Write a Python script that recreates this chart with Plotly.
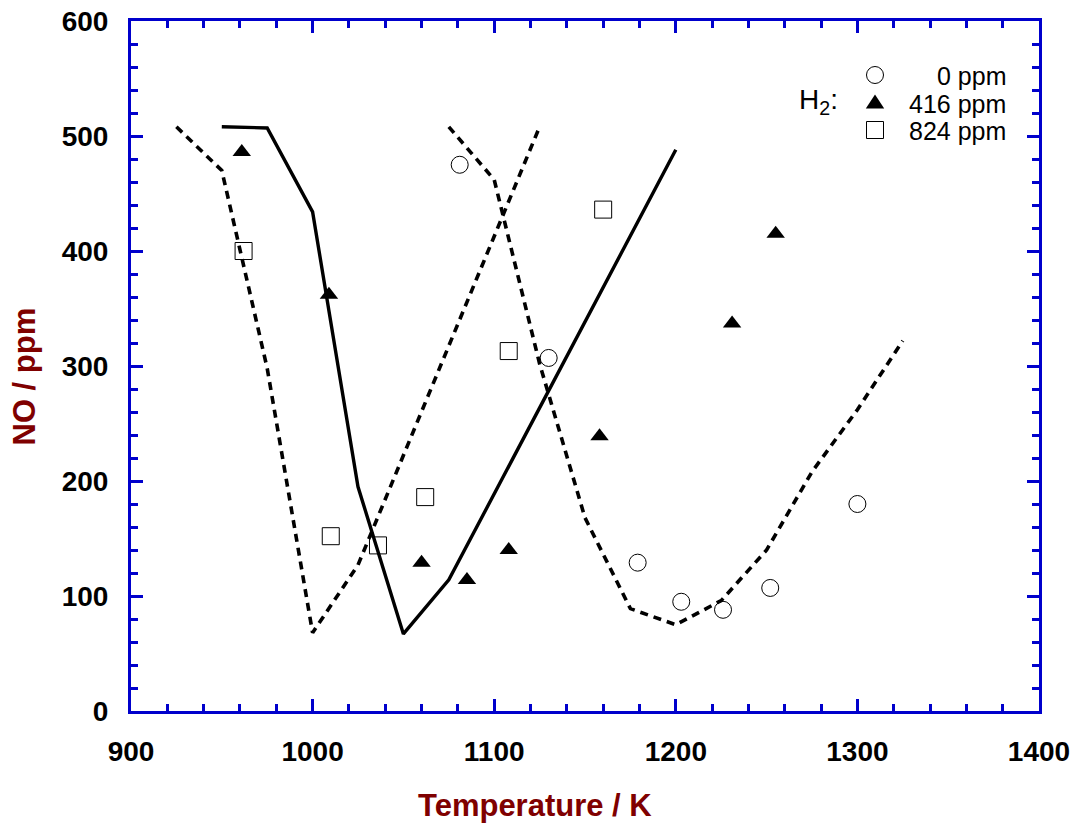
import plotly.graph_objects as go

# Simulated curves (lines)
T_sim_0 = [1075, 1100, 1125, 1150, 1175, 1200, 1225, 1250, 1275, 1300, 1325]
NO_sim_0 = [508, 462, 302, 168, 89, 75, 96, 140, 208, 262, 322]

T_sim_416 = [950, 975, 1000, 1025, 1050, 1075, 1200]
NO_sim_416 = [508, 507, 434, 195, 67, 114, 488]

T_sim_824 = [925, 950, 975, 1000, 1025, 1125]
NO_sim_824 = [508, 470, 298, 68, 127, 508]

# Experimental points
T_exp_0 = [1081, 1130, 1179, 1203, 1226, 1252, 1300]
NO_exp_0 = [475, 307, 129, 95, 88, 107, 180]

T_exp_416 = [961, 1009, 1060, 1085, 1108, 1158, 1231, 1255]
NO_exp_416 = [486, 362, 129, 114, 140, 239, 337, 415]

T_exp_824 = [962, 1010, 1036, 1062, 1108, 1160]
NO_exp_824 = [400, 152, 144, 186, 313, 436]

legend_labels = ["0 ppm", "416 ppm", "824 ppm"]

AXIS_BLUE = "#0000cc"
TITLE_RED = "#7f0000"
FONT = "Arial, Liberation Sans, Helvetica, sans-serif"

W, H = 1074, 825
ML, MT = 131, 21
PW, PH = 908, 690
MR = W - ML - PW
MB = H - MT - PH


def px_x(px):
    return (px - ML) / PW


def px_y(py):
    return (MT + PH - py) / PH


fig = go.Figure()

dash_style = dict(color="black", width=3.6, dash="8px,6px")
fig.add_trace(go.Scatter(x=T_sim_824, y=NO_sim_824, mode="lines", line=dash_style,
                         showlegend=False, hoverinfo="skip"))
fig.add_trace(go.Scatter(x=T_sim_0, y=NO_sim_0, mode="lines", line=dash_style,
                         showlegend=False, hoverinfo="skip"))
fig.add_trace(go.Scatter(x=T_sim_416, y=NO_sim_416, mode="lines",
                         line=dict(color="black", width=3.4),
                         showlegend=False, hoverinfo="skip"))

fig.add_trace(go.Scatter(x=T_exp_0, y=NO_exp_0, mode="markers", name=legend_labels[0],
                         showlegend=False,
                         marker=dict(symbol="circle-open", size=17, color="black",
                                     line=dict(width=1, color="black"))))
fig.add_trace(go.Scatter(x=T_exp_416, y=NO_exp_416, mode="markers", name=legend_labels[1],
                         showlegend=False,
                         marker=dict(symbol="triangle-up", size=16, color="black",
                                     line=dict(width=0))))
fig.add_trace(go.Scatter(x=T_exp_824, y=NO_exp_824, mode="markers", name=legend_labels[2],
                         showlegend=False,
                         marker=dict(symbol="square-open", size=17, color="black",
                                     line=dict(width=1, color="black"))))

axis_common = dict(
    showline=True, linecolor=AXIS_BLUE, linewidth=3, mirror="ticks",
    ticks="inside", ticklen=12, tickwidth=3, tickcolor=AXIS_BLUE,
    showgrid=False, zeroline=False, automargin=False,
    ticklabeloverflow="allow",
    tickfont=dict(family=FONT, size=28, color="black", weight="bold"),
    minor=dict(ticks="inside", ticklen=7, tickwidth=3, tickcolor=AXIS_BLUE, showgrid=False),
)

fig.update_xaxes(range=[900, 1400], dtick=100, tick0=900, minor_dtick=20,
                 ticklabelstandoff=13, **axis_common)
fig.update_yaxes(range=[0, 600], dtick=100, tick0=0, minor_dtick=20,
                 ticklabelstandoff=14, **axis_common)

title_font = dict(family=FONT, size=31, color=TITLE_RED, weight="bold")
fig.add_annotation(x=px_x(535), y=px_y(805), xref="paper", yref="paper",
                   xanchor="center", yanchor="middle", text="Temperature / K",
                   showarrow=False, font=title_font)
fig.add_annotation(x=px_x(23.5), y=px_y(377), xref="paper", yref="paper",
                   xanchor="center", yanchor="middle", text="NO / ppm", textangle=-90,
                   showarrow=False, font=title_font)

# Legend (drawn manually to match the reference layout)
key_x = px_x(875)
row_y = [75, 103, 130]
text_right = px_x(1008)

for lbl, ry in zip(legend_labels, row_y):
    fig.add_annotation(x=text_right, y=px_y(ry + 1), xref="paper", yref="paper",
                       xanchor="right", yanchor="middle", text=lbl, showarrow=False,
                       font=dict(family=FONT, size=25, color="black"))

# circle key
fig.add_shape(type="circle", xref="paper", yref="paper", xsizemode="pixel", ysizemode="pixel",
              xanchor=key_x, yanchor=px_y(row_y[0]), x0=-8.5, x1=8.5, y0=-8.5, y1=8.5,
              line=dict(color="black", width=1), fillcolor="rgba(0,0,0,0)")
# triangle key
fig.add_shape(type="path", xref="paper", yref="paper", xsizemode="pixel", ysizemode="pixel",
              xanchor=key_x, yanchor=px_y(row_y[1]),
              path="M -9.2,-5.5 L 9.2,-5.5 L 0,8.5 Z",
              line=dict(color="black", width=0), fillcolor="black")
# square key
fig.add_shape(type="rect", xref="paper", yref="paper", xsizemode="pixel", ysizemode="pixel",
              xanchor=key_x, yanchor=px_y(row_y[2]), x0=-8.5, x1=8.5, y0=-8.5, y1=8.5,
              line=dict(color="black", width=1), fillcolor="rgba(0,0,0,0)")

fig.add_annotation(x=px_x(797), y=px_y(102), xref="paper", yref="paper",
                   xanchor="left", yanchor="middle",
                   text="H<sub>2</sub>:", showarrow=False,
                   font=dict(family=FONT, size=28, color="black"))

fig.update_layout(
    width=W, height=H,
    margin=dict(l=ML, r=MR, t=MT, b=MB),
    plot_bgcolor="white", paper_bgcolor="white",
    showlegend=False,
)

# remove the default page margin so the 1074x825 figure fills the window exactly
fig.write_html("out.html", config={"displayModeBar": False},
               post_script="document.body.style.margin='0';")
